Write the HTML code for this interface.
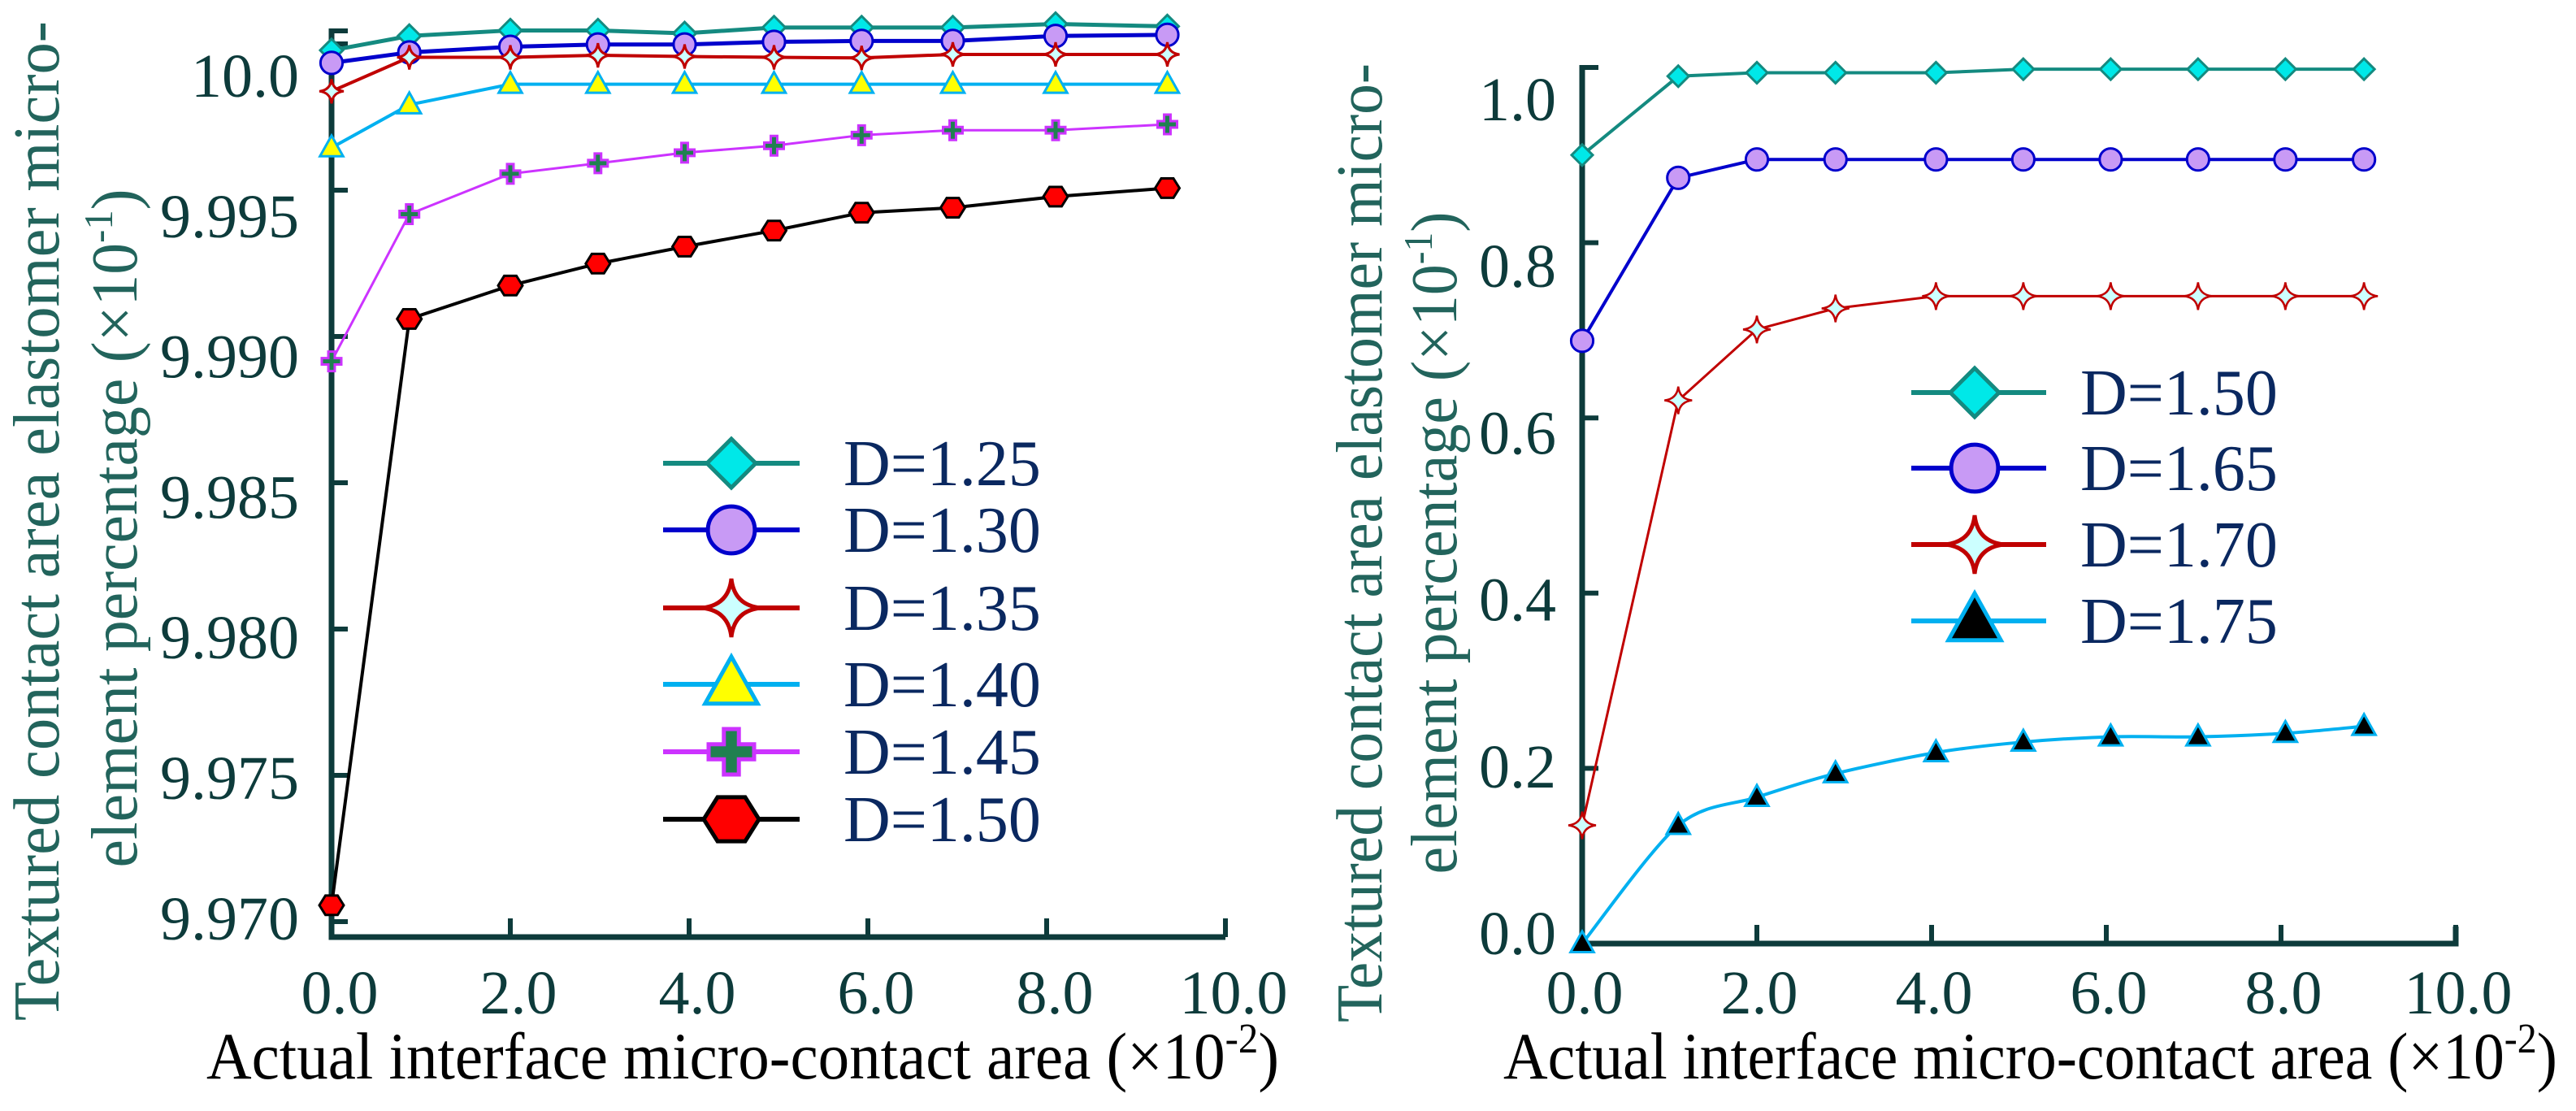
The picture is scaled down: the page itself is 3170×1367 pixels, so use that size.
<!DOCTYPE html>
<html><head><meta charset="utf-8">
<style>
html,body{margin:0;padding:0;background:#fff;}
svg{display:block;font-family:"Liberation Serif",serif;}
</style></head>
<body>
<svg id="chart" width="3170" height="1367" viewBox="0 0 3170 1367" xmlns="http://www.w3.org/2000/svg">
<rect width="3170" height="1367" fill="#fff"/>
<g id="left"></g>
<g id="right"></g>
</svg>
<script>
// ---- Left chart data ----
const leftX = [0, 0.87, 2.0, 2.98, 3.95, 4.95, 5.93, 6.95, 8.1, 9.35];
const leftSeriesNames = ["D=1.25","D=1.30","D=1.35","D=1.40","D=1.45","D=1.50"];
const leftD125 = [9.99978,10.00027,10.00046,10.00046,10.00036,10.00056,10.00056,10.00056,10.00068,10.0006];
const leftD130 = [9.99935,9.99971,9.9999,9.99998,9.99998,10.00007,10.0001,10.0001,10.00027,10.00031];
const leftD135 = [9.99838,9.99954,9.99954,9.99961,9.99957,9.99954,9.99952,9.99964,9.99964,9.99964];
const leftD140 = [9.99645,9.99792,9.99862,9.99862,9.99862,9.99862,9.99862,9.99862,9.99862,9.99862];
const leftD145 = [9.98915,9.99418,9.99556,9.99592,9.99628,9.99652,9.99688,9.99705,9.99705,9.99725];
const leftD150 = [9.97056,9.9906,9.99174,9.99249,9.99307,9.99362,9.99423,9.9944,9.99478,9.99507];
const leftYTicks = [10.0, 9.995, 9.990, 9.985, 9.980, 9.975, 9.970];
const leftYTickLabels = ["10.0","9.995","9.990","9.985","9.980","9.975","9.970"];
const xTicks = [0,2,4,6,8,10];
const xTickLabels = ["0.0","2.0","4.0","6.0","8.0","10.0"];
// ---- Right chart data ----
const rightX = [0, 1.1, 2.0, 2.9, 4.05, 5.05, 6.05, 7.05, 8.05, 8.95];
const rightSeriesNames = ["D=1.50","D=1.65","D=1.70","D=1.75"];
const rightD150 = [0.900,0.990,0.994,0.994,0.994,0.998,0.998,0.998,0.998,0.998];
const rightD165 = [0.688,0.874,0.895,0.895,0.895,0.895,0.895,0.895,0.895,0.895];
const rightD170 = [0.135,0.620,0.701,0.725,0.739,0.739,0.739,0.739,0.739,0.739];
const rightD175 = [0.0,0.135,0.167,0.194,0.218,0.230,0.236,0.236,0.240,0.248];
const rightYTicks = [1.0,0.8,0.6,0.4,0.2,0.0];
const rightYTickLabels = ["1.0","0.8","0.6","0.4","0.2","0.0"];

const NS="http://www.w3.org/2000/svg";
function mk(parent, tag, attrs){const e=document.createElementNS(NS,tag);for(const k in attrs)e.setAttribute(k,attrs[k]);parent.appendChild(e);return e;}
const AX="#0d3b3b";

const lx = v => 408 + v*110;
const ly = v => 234 + (9.995 - v)*36000;
const rx = v => 1947 + v*107.5;
const ry = v => 1161 - v*1078;

function marker(g, type, x, y, s, st){
  let e;
  if(type==="diamond"){
    e=mk(g,"polygon",{points:`${x},${y-s} ${x+s},${y} ${x},${y+s} ${x-s},${y}`});
  } else if(type==="circle"){
    e=mk(g,"circle",{cx:x,cy:y,r:s*0.85});
  } else if(type==="star"){
    const a=s, b=s*0.32;
    e=mk(g,"path",{d:`M${x},${y-a} Q${x+b*0.3},${y-b*0.3} ${x+a},${y} Q${x+b*0.3},${y+b*0.3} ${x},${y+a} Q${x-b*0.3},${y+b*0.3} ${x-a},${y} Q${x-b*0.3},${y-b*0.3} ${x},${y-a}Z`});
  } else if(type==="triangle"){
    e=mk(g,"polygon",{points:`${x},${y-s} ${x+s*0.95},${y+s*0.7} ${x-s*0.95},${y+s*0.7}`});
  } else if(type==="plus"){
    const w=s*0.33;
    e=mk(g,"path",{d:`M${x-w},${y-s}H${x+w}V${y-w}H${x+s}V${y+w}H${x+w}V${y+s}H${x-w}V${y+w}H${x-s}V${y-w}H${x-w}Z`});
  } else if(type==="hexagon"){
    let p=[];for(let i=0;i<6;i++){const an=Math.PI/3*i;p.push((x+s*Math.cos(an))+","+(y+s*0.92*Math.sin(an)));}
    e=mk(g,"polygon",{points:p.join(" ")});
  }
  e.setAttribute("fill",st.fill);e.setAttribute("stroke",st.mstroke);e.setAttribute("stroke-width",st.mw);
  return e;
}

function smoothPath(pts){
  let d=`M${pts[0][0]},${pts[0][1]}`;
  for(let i=0;i<pts.length-1;i++){
    const p0=pts[i-1]||pts[i],p1=pts[i],p2=pts[i+1],p3=pts[i+2]||p2;
    const t=0.15;
    const c1=[p1[0]+(p2[0]-p0[0])*t,p1[1]+(p2[1]-p0[1])*t];
    const c2=[p2[0]-(p3[0]-p1[0])*t,p2[1]-(p3[1]-p1[1])*t];
    d+=` C${c1[0]},${c1[1]} ${c2[0]},${c2[1]} ${p2[0]},${p2[1]}`;
  }
  return d;
}

function drawText(g,x,y,txt,size,fill,anchor,name){
  const t=mk(g,"text",{x:x,y:y,"font-size":size,fill:fill,"text-anchor":anchor||"start"});
  t.textContent=txt;
  
  
  return t;
}

// ================= LEFT =================
(function(){
  const g=document.getElementById("left");
  const styles=[
    {line:"#148a80",lw:5,type:"diamond",fill:"#00e8e8",mstroke:"#148a80",mw:3,s:14,ls:30},
    {line:"#0000cc",lw:5,type:"circle",fill:"#c89af5",mstroke:"#0000cc",mw:3,s:16,ls:34},
    {line:"#c00000",lw:4,type:"star",fill:"#ccffff",mstroke:"#c00000",mw:3,s:15,ls:36},
    {line:"#00b0f0",lw:4,type:"triangle",fill:"#ffff00",mstroke:"#00b0f0",mw:3,s:15,ls:34},
    {line:"#cc33ff",lw:3,type:"plus",fill:"#208050",mstroke:"#cc33ff",mw:3,s:12,ls:28},
    {line:"#000000",lw:4,type:"hexagon",fill:"#ff0000",mstroke:"#000",mw:3,s:15,ls:34}
  ];
  const series=[leftD125,leftD130,leftD135,leftD140,leftD145,leftD150];
  const ax=mk(g,"path",{d:`M${lx(0)},35 V${1153} H${lx(10)}`,fill:"none",stroke:AX,"stroke-width":7});
  
  mk(g,"line",{x1:lx(0),y1:38,x2:lx(0)+20,y2:38,stroke:AX,"stroke-width":6});
  leftYTicks.forEach((v,i)=>{
    const y=ly(v);
    mk(g,"line",{x1:lx(0),y1:y,x2:lx(0)+20,y2:y,stroke:AX,"stroke-width":6});
    drawText(g,368,93+i*172.8+26,leftYTickLabels[i],76,AX,"end","left-y-tick-label");
  });
  xTicks.forEach((v,i)=>{
    const x=lx(v);
    if(i>0) mk(g,"line",{x1:x,y1:1153,x2:x,y2:1130,stroke:AX,"stroke-width":6});
    drawText(g,x+10,1247,xTickLabels[i],76,AX,"middle","left-x-tick-label");
  });
  const t1=drawText(g,0,0,"Textured contact area elastomer  micro-",80,"#22645c","middle","left-y-axis-title");
  t1.setAttribute("transform","translate(72,641) rotate(-90)");t1.setAttribute("textLength","1230");t1.setAttribute("lengthAdjust","spacingAndGlyphs");
  const t2=mk(g,"text",{transform:"translate(168,650) rotate(-90)","font-size":80,fill:"#22645c","text-anchor":"middle",textLength:"835",lengthAdjust:"spacingAndGlyphs"});
  t2.innerHTML='element percentage (×10<tspan dy="-30" font-size="50">-1</tspan><tspan dy="30">)</tspan>';
  
  const xt=mk(g,"text",{x:254,y:1327,"font-size":82,fill:"#000",textLength:"1320",lengthAdjust:"spacingAndGlyphs"});
  xt.innerHTML='Actual interface micro-contact area (×10<tspan dy="-32" font-size="52">-2</tspan><tspan dy="32">)</tspan>';
  
  series.forEach((vals,si)=>{
    const st=styles[si];
    const sg=mk(g,"g",{});
    
    
    const pts=vals.map((v,i)=>[lx(leftX[i]),ly(v)]);
    mk(sg,"polyline",{points:pts.map(p=>p.join(",")).join(" "),fill:"none",stroke:st.line,"stroke-width":st.lw});
    pts.forEach(p=>{const m=marker(sg,st.type,p[0],p[1],st.s,st);
      });
  });
  const rows=[570,652,748,842,925,1008];
  leftSeriesNames.forEach((nm,i)=>{
    const st=styles[i];
    const lg=mk(g,"g",{});
    
    
    mk(lg,"line",{x1:816,y1:rows[i],x2:984,y2:rows[i],stroke:st.line,"stroke-width":6});
    marker(lg,st.type,900,rows[i],st.ls,Object.assign({},st,{mw:5}));
    drawText(lg,1038,rows[i]+27,nm,80,"#0a2860","start","legend-label");
  });
})();

// ================= RIGHT =================
(function(){
  const g=document.getElementById("right");
  const styles=[
    {line:"#148a80",lw:4,type:"diamond",fill:"#00e8e8",mstroke:"#148a80",mw:3,s:13,ls:30,smooth:false},
    {line:"#0000cc",lw:4,type:"circle",fill:"#c89af5",mstroke:"#0000cc",mw:3,s:16,ls:34,smooth:false},
    {line:"#c00000",lw:3,type:"star",fill:"#ccffff",mstroke:"#c00000",mw:2.5,s:17,ls:36,smooth:false},
    {line:"#00b0f0",lw:4,type:"triangle",fill:"#000000",mstroke:"#00b0f0",mw:3,s:15,ls:34,smooth:true}
  ];
  const series=[rightD150,rightD165,rightD170,rightD175];
  const ax=mk(g,"path",{d:`M${rx(0)},80 V${1161} H${rx(10)} V1140`,fill:"none",stroke:AX,"stroke-width":7});
  
  rightYTicks.forEach((v,i)=>{
    const y=ry(v);
    mk(g,"line",{x1:rx(0),y1:y,x2:rx(0)+20,y2:y,stroke:AX,"stroke-width":6});
    drawText(g,1915,122+i*205.2+26,rightYTickLabels[i],76,AX,"end","right-y-tick-label");
  });
  xTicks.forEach((v,i)=>{
    const x=rx(v);
    if(i>0) mk(g,"line",{x1:x,y1:1161,x2:x,y2:1138,stroke:AX,"stroke-width":6});
    drawText(g,x+3,1247,xTickLabels[i],76,AX,"middle","right-x-tick-label");
  });
  const t1=drawText(g,0,0,"Textured contact area elastomer  micro-",80,"#22645c","middle","right-y-axis-title");
  t1.setAttribute("transform","translate(1700,668) rotate(-90)");t1.setAttribute("textLength","1180");t1.setAttribute("lengthAdjust","spacingAndGlyphs");
  const t2=mk(g,"text",{transform:"translate(1792,668) rotate(-90)","font-size":80,fill:"#22645c","text-anchor":"middle",textLength:"815",lengthAdjust:"spacingAndGlyphs"});
  t2.innerHTML='element percentage (×10<tspan dy="-30" font-size="50">-1</tspan><tspan dy="30">)</tspan>';
  
  const xt=mk(g,"text",{x:1850,y:1327,"font-size":82,fill:"#000",textLength:"1297",lengthAdjust:"spacingAndGlyphs"});
  xt.innerHTML='Actual interface micro-contact area (×10<tspan dy="-32" font-size="52">-2</tspan><tspan dy="32">)</tspan>';
  
  series.forEach((vals,si)=>{
    const st=styles[si];
    const sg=mk(g,"g",{});
    
    
    const pts=vals.map((v,i)=>[rx(rightX[i]),ry(v)]);
    if(st.smooth){
      mk(sg,"path",{d:smoothPath(pts),fill:"none",stroke:st.line,"stroke-width":st.lw});
    } else {
      mk(sg,"polyline",{points:pts.map(p=>p.join(",")).join(" "),fill:"none",stroke:st.line,"stroke-width":st.lw});
    }
    pts.forEach(p=>{const m=marker(sg,st.type,p[0],p[1],st.s,st);
      });
  });
  const rows=[483,576,670,764];
  rightSeriesNames.forEach((nm,i)=>{
    const st=styles[i];
    const lg=mk(g,"g",{});
    
    
    mk(lg,"line",{x1:2352,y1:rows[i],x2:2518,y2:rows[i],stroke:st.line,"stroke-width":6});
    marker(lg,st.type,2430,rows[i],st.ls,Object.assign({},st,{mw:5}));
    drawText(lg,2560,rows[i]+27,nm,80,"#0a2860","start","legend-label");
  });
})();
</script>
</body></html>
